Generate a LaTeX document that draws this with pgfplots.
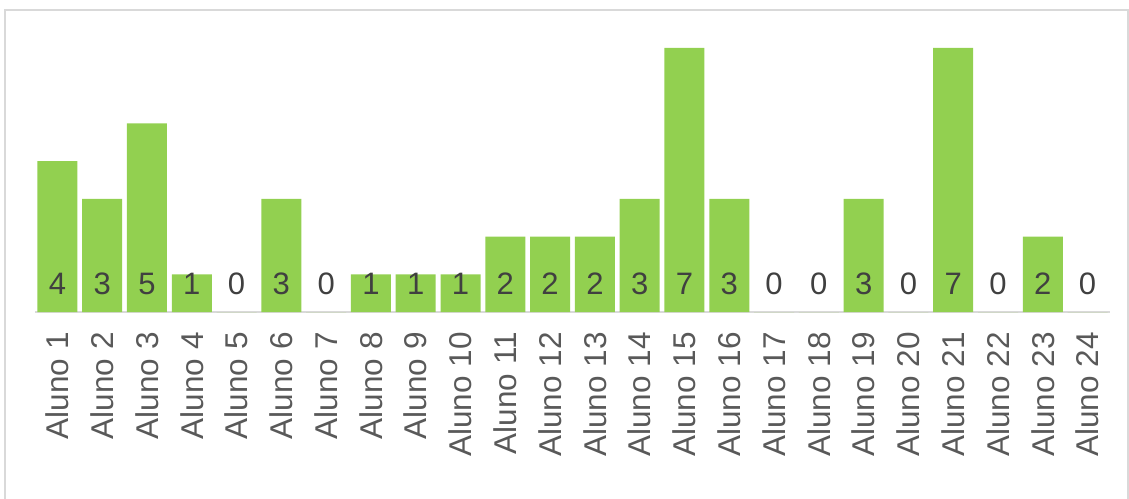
\documentclass[border=0pt]{standalone}
\usepackage{fontspec}
\setmainfont{Liberation Sans}
\usepackage{pgfplots}
\usepackage{pgfplotstable}
\pgfplotsset{compat=1.18}
\definecolor{barGreen}{HTML}{92D050}
\definecolor{lineGray}{HTML}{D9D9D9}
\definecolor{valText}{HTML}{404040}
\definecolor{tickText}{HTML}{595959}
\pgfplotstableread{
x y
0 4
1 3
2 5
3 1
4 0
5 3
6 0
7 1
8 1
9 1
10 2
11 2
12 2
13 3
14 7
15 3
16 0
17 0
18 3
19 0
20 7
21 0
22 2
23 0
}\datatable
\begin{document}
\begin{tikzpicture}
\useasboundingbox (0,0) rectangle (1129bp,499bp);
\draw[lineGray, line width=1.5bp] (5bp,-10bp) rectangle (1128bp,489bp);
\begin{axis}[
  at={(35bp,187bp)}, anchor=south west,
  scale only axis, width=1075bp, height=264bp,
  xmin=-0.5, xmax=23.5, ymin=0, ymax=7,
  clip=false,
  axis y line=none, axis x line*=bottom,
  x axis line style={draw=lineGray, line width=1.5bp, -},
  xtick=data,
  xticklabels={Aluno 1,Aluno 2,Aluno 3,Aluno 4,Aluno 5,Aluno 6,Aluno 7,Aluno 8,Aluno 9,Aluno 10,Aluno 11,Aluno 12,Aluno 13,Aluno 14,Aluno 15,Aluno 16,Aluno 17,Aluno 18,Aluno 19,Aluno 20,Aluno 21,Aluno 22,Aluno 23,Aluno 24},
  major tick length=0pt,
  xticklabel style={rotate=90, anchor=east, inner sep=0pt, text=tickText, font=\fontsize{31.5bp}{37bp}\selectfont},
  xticklabel shift=20bp,
]
\addplot[ybar, bar width=40bp, fill=barGreen, draw=none] table[x=x, y=y]{\datatable};
\addplot[draw=none, mark=none, point meta=explicit symbolic, nodes near coords={\pgfplotspointmeta},
  nodes near coords style={anchor=center, inner sep=0pt, text=valText, font=\fontsize{31bp}{36bp}\selectfont}]
  table[x=x, y expr=0.74, meta=y]{\datatable};
\end{axis}
\end{tikzpicture}
\end{document}
